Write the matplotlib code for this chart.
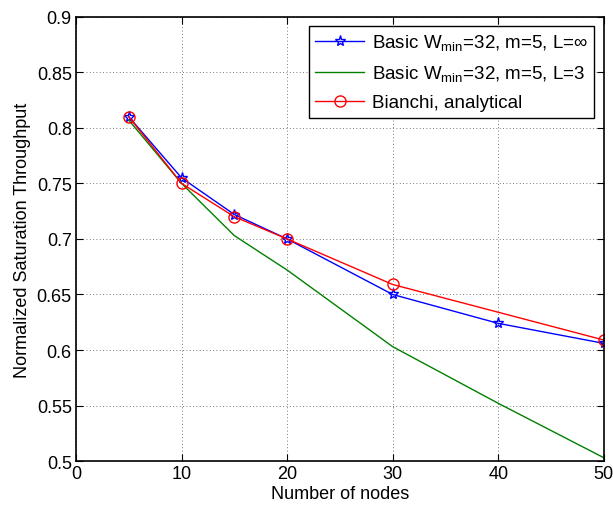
import matplotlib
matplotlib.use("Agg")
import matplotlib.pyplot as plt

plt.rcParams['font.family'] = ['Liberation Sans', 'DejaVu Sans']
plt.rcParams['mathtext.fontset'] = 'custom'
plt.rcParams['mathtext.rm'] = 'Liberation Sans'

nodes_basic = [5, 10, 15, 20, 30, 40, 50]
thr_basic_inf = [0.810, 0.755, 0.722, 0.700, 0.650, 0.624, 0.606]
thr_basic_L3 = [0.807, 0.750, 0.703, 0.672, 0.603, 0.552, 0.503]
nodes_bianchi = [5, 10, 15, 20, 30, 50]
thr_bianchi = [0.810, 0.750, 0.720, 0.700, 0.659, 0.609]

fig = plt.figure(figsize=(6.13, 5.10), dpi=100)
ax = fig.add_axes([0.124, 0.094, 0.861, 0.871])

ax.plot(nodes_basic, thr_basic_inf, color='blue', lw=1, marker='*', ms=8,
        mfc='none', mec='blue', label=r'Basic W$_{\mathrm{min}}$=32, m=5, L=∞')
ax.plot(nodes_basic, thr_basic_L3, color='green', lw=1,
        label=r'Basic W$_{\mathrm{min}}$=32, m=5, L=3')
ax.plot(nodes_bianchi, thr_bianchi, color='red', lw=1, marker='o', ms=8,
        mfc='none', mec='red', label='Bianchi, analytical')

ax.set_xlim(0, 50)
ax.set_ylim(0.5, 0.9)
ax.set_xticks([0, 10, 20, 30, 40, 50])
ax.set_yticks([0.5, 0.55, 0.6, 0.65, 0.7, 0.75, 0.8, 0.85, 0.9])
ax.set_yticklabels(['0.5', '0.55', '0.6', '0.65', '0.7', '0.75', '0.8', '0.85', '0.9'])
ax.tick_params(direction='in', top=True, right=True, labelsize=13, length=5, pad=3)
ax.grid(True, linestyle=(0, (1, 3)), color='0.3', lw=0.6)
for s in ax.spines.values():
    s.set_linewidth(1.2)
ax.set_xlabel('Number of nodes', fontsize=13, labelpad=2)
ax.set_ylabel('Normalized Saturation Throughput', fontsize=13, labelpad=4)

leg = ax.legend(loc='upper right', fontsize=13.5, fancybox=False, framealpha=1,
                edgecolor='black', borderaxespad=0.5, handlelength=2.6,
                handletextpad=0.4, labelspacing=0.55, borderpad=0.35)
leg.get_frame().set_linewidth(1.0)

fig.savefig('out.png', dpi=100)
